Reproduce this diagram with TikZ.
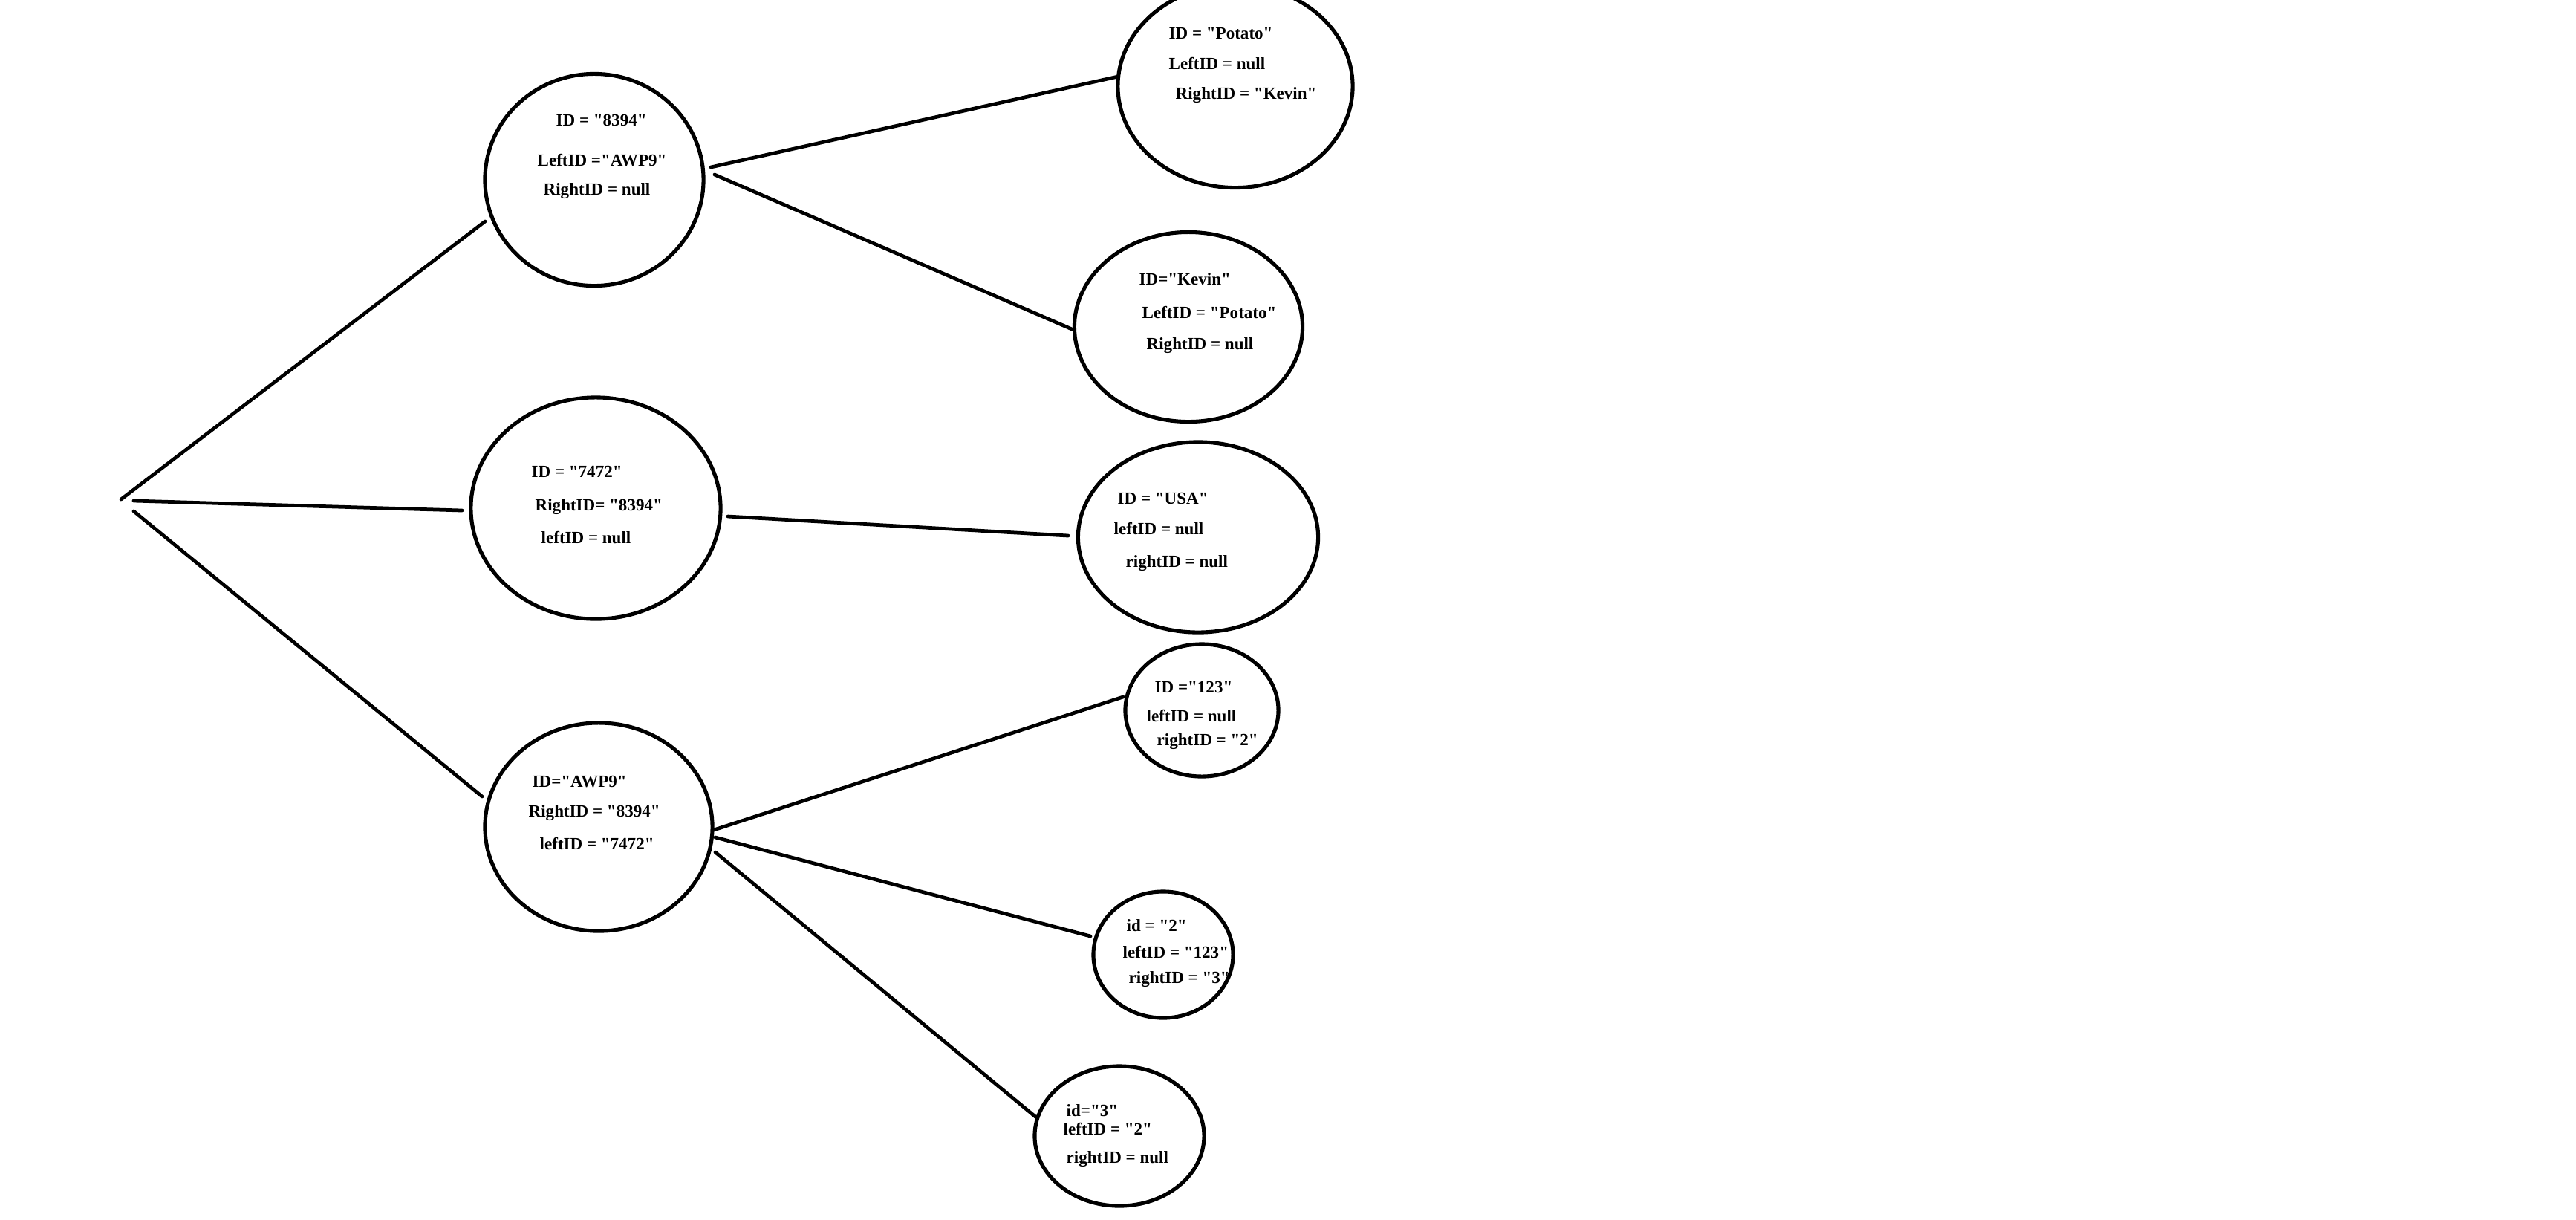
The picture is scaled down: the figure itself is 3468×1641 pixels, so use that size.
\documentclass[tikz,border=0pt]{standalone}
\usepackage{fontspec}
\setmainfont{Liberation Serif}
\usetikzlibrary{shapes.geometric}
\newcommand{\qt}{\textquotedbl}
\begin{document}
\begin{tikzpicture}[x=0.01cm,y=-0.01cm,
  oval/.style={ellipse, draw=black, line width=1.45pt, inner sep=0pt},
  lbl/.style={anchor=base west, inner sep=0pt, font=\fontsize{6.55pt}{7pt}\selectfont\bfseries},
  edge/.style={draw=black, line width=1.35pt, line cap=round}]
\useasboundingbox[fill=white] (0,0) rectangle (3468,1641);

% ellipses
\node[oval, minimum width=2.94cm, minimum height=2.85cm] (n8394) at (800,242) {};
\node[oval, minimum width=3.16cm, minimum height=2.73cm] (nPotato) at (1663,116) {};
\node[oval, minimum width=3.07cm, minimum height=2.55cm] (nKevin) at (1600,440) {};
\node[oval, minimum width=3.36cm, minimum height=2.98cm] (n7472) at (802,684) {};
\node[oval, minimum width=3.23cm, minimum height=2.56cm] (nUSA) at (1613,723) {};
\node[oval, minimum width=3.06cm, minimum height=2.80cm] (nAWP9) at (806,1113) {};
\node[oval, minimum width=2.06cm, minimum height=1.78cm] (n123) at (1618,956) {};
\node[oval, minimum width=1.88cm, minimum height=1.70cm] (n2) at (1566,1285) {};
\node[oval, minimum width=2.28cm, minimum height=1.88cm] (n3) at (1507,1529) {};

% texts
\node[lbl] (t8394a) at (748,169) {ID = \qt 8394\qt};
\node[lbl] (t8394b) at (723,223) {LeftID =\qt AWP9\qt};
\node[lbl] (t8394c) at (731,262) {RightID = null};

\node[lbl] (tPotA) at (1573,52) {ID = \qt Potato\qt};
\node[lbl] (tPotB) at (1573,93) {LeftID = null};
\node[lbl] (tPotC) at (1582,133) {RightID = \qt Kevin\qt};

\node[lbl] (tKevA) at (1533,383) {ID=\qt Kevin\qt};
\node[lbl] (tKevB) at (1537,428) {LeftID = \qt Potato\qt};
\node[lbl] (tKevC) at (1543,470) {RightID = null};

\node[lbl] (t7472a) at (715,642) {ID = \qt 7472\qt};
\node[lbl] (t7472b) at (720,687) {RightID= \qt 8394\qt};
\node[lbl] (t7472c) at (728,731) {leftID = null};

\node[lbl] (tUSAa) at (1504,678) {ID = \qt USA\qt};
\node[lbl] (tUSAb) at (1499,719) {leftID = null};
\node[lbl] (tUSAc) at (1515,763) {rightID = null};

\node[lbl] (tAWPa) at (716,1059) {ID=\qt AWP9\qt};
\node[lbl] (tAWPb) at (711,1099) {RightID = \qt 8394\qt};
\node[lbl] (tAWPc) at (726,1143) {leftID = \qt 7472\qt};

\node[lbl] (t123a) at (1554,932) {ID =\qt 123\qt};
\node[lbl] (t123b) at (1543,971) {leftID = null};
\node[lbl] (t123c) at (1557,1003) {rightID = \qt 2\qt};

\node[lbl] (t2a) at (1516,1253) {id = \qt 2\qt};
\node[lbl] (t2b) at (1511,1289) {leftID = \qt 123\qt};
\node[lbl] (t2c) at (1519,1323) {rightID = \qt 3\qt};

\node[lbl] (t3a) at (1435,1502) {id=\qt 3\qt};
\node[lbl] (t3b) at (1431,1527) {leftID = \qt 2\qt};
\node[lbl] (t3c) at (1435,1565) {rightID = null};

% connector end points
\coordinate (r1) at (163,672);
\coordinate (r2) at (180,674);
\coordinate (r3) at (180,688);
\coordinate (a1) at (653,298);
\coordinate (a2) at (622,687);
\coordinate (a3) at (649,1072);
\coordinate (b1) at (957,225);
\coordinate (c1) at (1505,103);
\coordinate (b2) at (962,235);
\coordinate (c2) at (1443,443);
\coordinate (b3) at (980,695);
\coordinate (c3) at (1438,721);
\coordinate (b4) at (961,1117);
\coordinate (c4) at (1512,938);
\coordinate (b5) at (963,1127);
\coordinate (c5) at (1468,1260);
\coordinate (b6) at (963,1147);
\coordinate (c6) at (1394,1503);

\draw[edge] (r1) -- (a1);
\draw[edge] (r2) -- (a2);
\draw[edge] (r3) -- (a3);
\draw[edge] (b1) -- (c1);
\draw[edge] (b2) -- (c2);
\draw[edge] (b3) -- (c3);
\draw[edge] (b4) -- (c4);
\draw[edge] (b5) -- (c5);
\draw[edge] (b6) -- (c6);
\end{tikzpicture}
\end{document}
